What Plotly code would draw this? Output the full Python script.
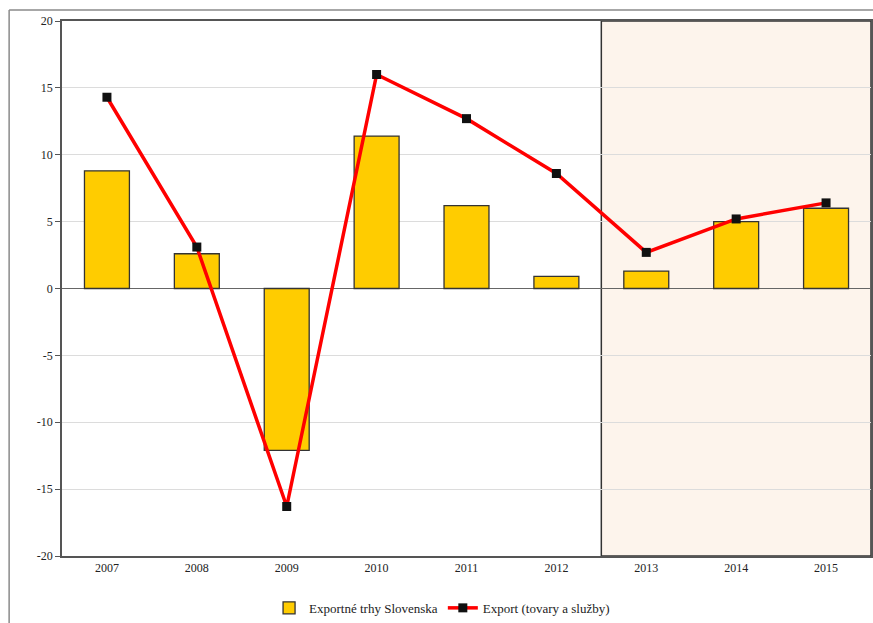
import plotly.graph_objects as go

years = ["2007", "2008", "2009", "2010", "2011", "2012", "2013", "2014", "2015"]
export_markets = [8.8, 2.6, -12.1, 11.4, 6.2, 0.9, 1.3, 5.0, 6.0]
export_goods_services = [14.3, 3.1, -16.3, 16.0, 12.7, 8.6, 2.7, 5.2, 6.4]
y_ticks = [-20, -15, -10, -5, 0, 5, 10, 15, 20]
y_tick_labels = [str(v) for v in y_ticks]

W, H = 873, 623
L, R, T, B = 62, 0, 21, 66
pw, ph = W - L - R, H - T - B


def px_x(p):
    return (p - L) / pw


def px_y(p):
    return (H - B - p) / ph


fig = go.Figure()
fig.add_trace(go.Bar(
    x=years, y=export_markets, name="Exportné trhy Slovenska",
    width=0.5, marker=dict(color="#FFCC00", line=dict(color="#333333", width=1.3)),
))
fig.add_trace(go.Scatter(
    x=years, y=export_goods_services, name="Export (tovary a služby)",
    mode="lines+markers",
    line=dict(color="#FF0000", width=3.5),
    marker=dict(symbol="square", size=9, color="#111111"),
))

shapes = [
    # forecast period
    dict(type="rect", xref="x", yref="paper", x0=5.5, x1=8.5, y0=0, y1=1,
         fillcolor="#FDF4EC", line=dict(color="#333333", width=1.5), layer="below"),
    # outer frame
    dict(type="line", xref="paper", yref="paper", x0=px_x(9), x1=px_x(W + 5),
         y0=px_y(10), y1=px_y(10), line=dict(color="#8a8a8a", width=1.5)),
    dict(type="line", xref="paper", yref="paper", x0=px_x(9), x1=px_x(9),
         y0=px_y(10), y1=px_y(H + 5), line=dict(color="#8a8a8a", width=1.5)),
]

fig.update_layout(
    width=W, height=H,
    margin=dict(l=L, r=R, t=T, b=B),
    paper_bgcolor="white", plot_bgcolor="white",
    font=dict(family="Liberation Serif, Times New Roman, serif", size=12, color="#222"),
    shapes=shapes,
    bargap=0.5,
    showlegend=True,
    legend=dict(orientation="h", x=px_x(443), xanchor="center", y=px_y(609), yanchor="middle",
                font=dict(size=13), traceorder="normal", itemwidth=30),
    xaxis=dict(type="category", range=[-0.5, 8.5], showgrid=False,
               showline=True, linecolor="#555", linewidth=1.5, mirror=True,
               ticks="", tickfont=dict(size=12)),
    yaxis=dict(range=[-20, 20], tickvals=y_ticks, ticktext=y_tick_labels,
               showgrid=True, gridcolor="#dcdcdc",
               gridwidth=1, zeroline=True, zerolinecolor="#666", zerolinewidth=1.2,
               showline=True, linecolor="#555", linewidth=1.5, mirror=True,
               ticks="outside", ticklen=5, tickcolor="#555", tickfont=dict(size=12)),
)

fig.write_html("out.html")
